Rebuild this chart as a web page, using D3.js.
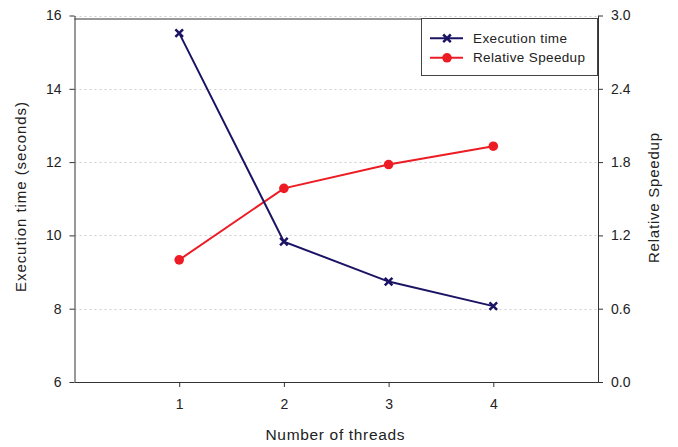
<!DOCTYPE html>
<html>
<head>
<meta charset="utf-8">
<script src="https://cdn.jsdelivr.net/npm/d3@7"></script>
<style>
  body { margin: 0; background: #fff; }
  text { font-family: "Liberation Sans", Arial, sans-serif; fill: #222; }
</style>
</head>
<body>
<div id="chart"></div>
<script>
const threads = [1, 2, 3, 4];
const execTime = [15.52, 9.83, 8.74, 8.07];
const speedup = [1.0, 1.585, 1.78, 1.93];
const leftTicks = [6, 8, 10, 12, 14, 16];
const rightTicks = [0, 0.6, 1.2, 1.8, 2.4, 3.0];
const seriesNames = ["Execution time", "Relative Speedup"];

const width = 678, height = 447;
const navy = "#1b1464", red = "#ed1c24";

const svg = d3.select("#chart").append("svg")
  .attr("width", width).attr("height", height);

const x = d3.scaleLinear().domain([0, 5]).range([74.5, 598]);
const yL = d3.scaleLinear().domain([6, 16]).range([382, 15.5]);
const yR = d3.scaleLinear().domain([0, 3]).range([382, 15.5]);

// grid lines
svg.append("g").selectAll("line")
  .data(leftTicks.filter(d => d > 6))
  .enter().append("line")
  .attr("x1", x(0)).attr("x2", x(5))
  .attr("y1", d => Math.round(yL(d)) + 0.5).attr("y2", d => Math.round(yL(d)) + 0.5)
  .attr("stroke", "#cfcfcf").attr("stroke-dasharray", "2,3");

// frame top
svg.append("line").attr("x1", x(0)).attr("x2", x(5)).attr("y1", 19).attr("y2", 19)
  .attr("stroke", "#333").attr("stroke-width", 1);

const axisFont = g => g.selectAll("text")
  .style("font-family", "Liberation Sans, Arial, sans-serif")
  .style("font-size", "14px").attr("fill", "#222");

svg.append("g").attr("transform", `translate(0,382)`)
  .call(d3.axisBottom(x).tickValues(threads).tickFormat(d3.format("d")).tickSize(5).tickPadding(12).tickSizeOuter(0))
  .call(axisFont)
  .call(g => g.selectAll("line, path").attr("stroke", "#333"));

svg.append("g").attr("transform", `translate(${x(0)},0)`)
  .call(d3.axisLeft(yL).tickValues(leftTicks).tickSize(5).tickPadding(8).tickSizeOuter(0))
  .call(axisFont)
  .call(g => g.selectAll("line, path").attr("stroke", "#333"));

svg.append("g").attr("transform", `translate(${x(5)},0)`)
  .call(d3.axisRight(yR).tickValues(rightTicks).tickFormat(d3.format(".1f")).tickSize(5).tickPadding(8).tickSizeOuter(0))
  .call(axisFont)
  .call(g => g.selectAll("line, path").attr("stroke", "#333"));

// axis titles
svg.append("text").attr("x", 335).attr("y", 440)
  .attr("text-anchor", "middle").style("font-size", "15.5px")
  .attr("textLength", 139).attr("lengthAdjust", "spacing").text("Number of threads");
svg.append("text").attr("transform", "translate(26,197) rotate(-90)")
  .attr("text-anchor", "middle").style("font-size", "15px")
  .attr("textLength", 190).attr("lengthAdjust", "spacing").text("Execution time (seconds)");
svg.append("text").attr("transform", "translate(659,198) rotate(-90)")
  .attr("text-anchor", "middle").style("font-size", "15px")
  .attr("textLength", 130).attr("lengthAdjust", "spacing").text("Relative Speedup");

// lines
const lineL = d3.line().x((d, i) => x(threads[i])).y(d => yL(d));
const lineR = d3.line().x((d, i) => x(threads[i])).y(d => yR(d));

svg.append("path").datum(speedup).attr("d", lineR)
  .attr("fill", "none").attr("stroke", red).attr("stroke-width", 2);
svg.append("path").datum(execTime).attr("d", lineL)
  .attr("fill", "none").attr("stroke", navy).attr("stroke-width", 2);

const cross = (g, cx, cy) => {
  const s = 3.8;
  g.append("path")
    .attr("d", `M${cx - s},${cy - s}L${cx + s},${cy + s}M${cx - s},${cy + s}L${cx + s},${cy - s}`)
    .attr("stroke", navy).attr("stroke-width", 2.5).attr("fill", "none");
};

svg.append("g").selectAll("circle").data(speedup).enter().append("circle")
  .attr("cx", (d, i) => x(threads[i])).attr("cy", d => yR(d)).attr("r", 4.8).attr("fill", red);

const mk = svg.append("g");
execTime.forEach((d, i) => cross(mk, x(threads[i]), yL(d)));

// legend
const lg = svg.append("g");
lg.append("rect").attr("x", 421.5).attr("y", 18.5).attr("width", 176).attr("height", 57)
  .attr("fill", "#fff").attr("stroke", "#444").attr("stroke-width", 1);
const rows = [38.3, 57.8];
const legLens = [94, 112];
lg.append("line").attr("x1", 430).attr("x2", 463).attr("y1", rows[0]).attr("y2", rows[0])
  .attr("stroke", navy).attr("stroke-width", 2);
cross(lg, 447, rows[0]);
lg.append("line").attr("x1", 430).attr("x2", 463).attr("y1", rows[1]).attr("y2", rows[1])
  .attr("stroke", red).attr("stroke-width", 2);
lg.append("circle").attr("cx", 447).attr("cy", rows[1]).attr("r", 4.8).attr("fill", red);
seriesNames.forEach((n, i) => {
  lg.append("text").attr("x", 473).attr("y", rows[i] + 4.5)
    .style("font-size", "13.5px")
    .attr("textLength", legLens[i]).attr("lengthAdjust", "spacing").text(n);
});
</script>
</body>
</html>
